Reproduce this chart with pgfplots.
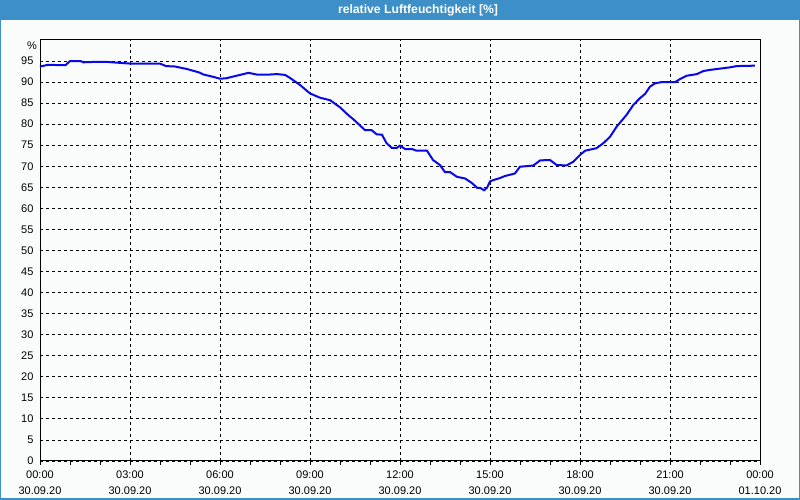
\documentclass[border=0pt]{standalone}
\usepackage{fontspec}
\setmainfont{Liberation Sans}
\usepackage{pgfplots}
\pgfplotsset{compat=1.18}
\definecolor{barblue}{RGB}{61,143,199}
\definecolor{bgc}{RGB}{250,252,251}
\definecolor{curve}{RGB}{8,8,232}
\begin{document}
\begin{tikzpicture}[x=1bp,y=1bp]
\useasboundingbox (0,0) rectangle (800,500);
\fill[bgc] (0,0) rectangle (800,500);
\fill[barblue] (0,480) rectangle (800,500);
\draw[barblue,line width=1.5bp] (0.75,0.75) rectangle (799.25,499.25);
\node[text=white,font=\fontsize{12.2bp}{14bp}\selectfont\bfseries] at (418,490) {relative Luftfeuchtigkeit [\%]};
\begin{axis}[
  at={(40bp,39bp)}, anchor=south west,
  scale only axis, width=720bp, height=421bp,
  xmin=0, xmax=24, ymin=0, ymax=100,
  axis line style={black,line width=1bp},
  xtick={0,3,...,24},
  xticklabels={{00:00\\30.09.20},{03:00\\30.09.20},{06:00\\30.09.20},{09:00\\30.09.20},{12:00\\30.09.20},{15:00\\30.09.20},{18:00\\30.09.20},{21:00\\30.09.20},{00:00\\01.10.20}},
  minor x tick num=2,
  ytick={0,5,...,95},
  tick align=outside,
  xtick pos=bottom, ytick pos=left,
  major tick length=4bp, minor tick length=4bp,
  y tick style={draw=none},
  tick style={black,line width=0.8bp},
  xmajorgrids, ymajorgrids,
  major grid style={black,line width=0.8bp,dash pattern=on 3bp off 3bp},
  /pgf/number format/assume math mode=true,
  ticklabel style={font=\fontsize{11bp}{16bp}\selectfont},
  xticklabel style={align=center,yshift=-2.5bp},
  yticklabel style={xshift=1bp},
  clip=false,
]
\addplot[curve, line width=2bp] coordinates {
(0,93.7) (0.27,94.1) (0.85,94.0) (1.0,95.0) (1.35,95.0) (1.45,94.7) (1.85,94.8)
(2.2,94.8) (2.6,94.6) (3.0,94.4) (4.0,94.4) (4.2,93.8) (4.5,93.7) (4.9,93.1)
(5.3,92.3) (5.45,91.8) (5.8,91.2) (6.0,90.8) (6.2,90.9) (6.43,91.3) (6.78,91.9)
(6.95,92.2) (7.22,91.8) (7.67,91.8) (7.9,91.9) (8.17,91.7) (8.33,91.0) (8.67,89.3)
(9.0,87.3) (9.33,86.3) (9.67,85.7) (10.0,84.0) (10.3,82.0) (10.44,81.2) (10.83,78.6)
(11.05,78.6) (11.22,77.6) (11.4,77.5) (11.55,75.5) (11.72,74.4) (11.9,74.4) (12.0,74.9)
(12.17,74.1) (12.4,74.1) (12.55,73.7) (12.9,73.7) (13.1,71.5) (13.33,70.3) (13.5,68.6)
(13.67,68.6) (13.9,67.5) (14.17,67.1) (14.4,66.0) (14.57,64.9) (14.67,64.9) (14.8,64.3)
(14.9,64.9) (15.0,66.4) (15.1,66.7) (15.33,67.2) (15.5,67.7) (15.78,68.2) (15.83,68.3)
(16.0,69.9) (16.33,70.1) (16.45,70.2) (16.67,71.4) (17.0,71.5) (17.22,70.3) (17.55,70.2)
(17.78,71.1) (18.0,72.7) (18.17,73.7) (18.55,74.3) (18.78,75.5) (19.0,77.0) (19.22,79.4)
(19.55,82.2) (19.78,84.6) (20.0,86.2) (20.17,87.2) (20.33,88.9) (20.5,89.7) (20.72,90.0)
(21.17,90.0) (21.33,90.7) (21.55,91.5) (21.9,91.9) (22.1,92.6) (22.33,92.9) (22.67,93.2)
(23.0,93.5) (23.22,93.8) (23.83,93.9)
};
\node[anchor=east,font=\fontsize{11bp}{13bp}\selectfont,inner sep=0pt] at (axis cs:0,98.6) [xshift=-3bp] {\%};
\end{axis}
\end{tikzpicture}
\end{document}
